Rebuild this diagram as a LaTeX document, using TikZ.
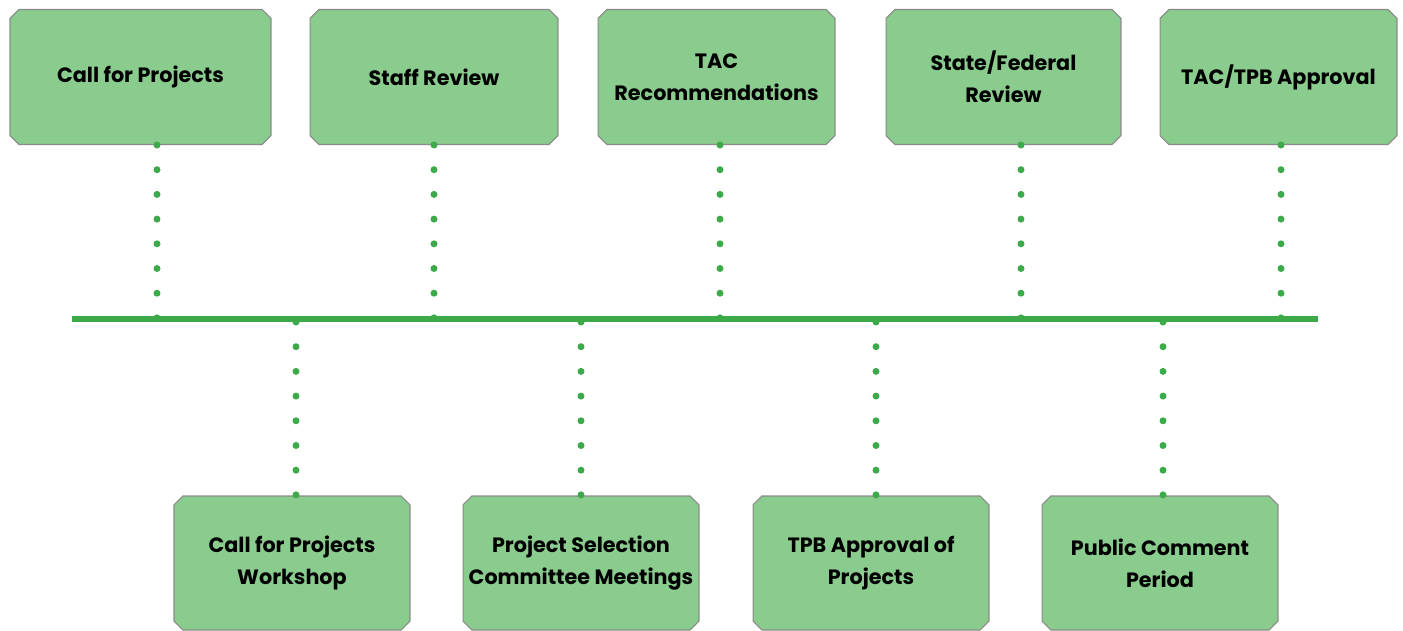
\documentclass[tikz,border=0pt]{standalone}
\usepackage{fontspec}
\setmainfont{Poppins}
\usepackage{xcolor}
\usepackage{tikz}
\usetikzlibrary{shapes.misc}
\definecolor{boxfill}{HTML}{8ACB8E}
\definecolor{boxline}{HTML}{8A8A8A}
\definecolor{linegreen}{HTML}{3DAA4A}
\tikzset{
	stepbox/.style={chamfered rectangle, chamfered rectangle xsep=2.5pt, chamfered rectangle ysep=2.5pt,
		fill=boxfill, draw=boxline, line width=0.6pt, align=center, inner sep=0pt,
		font=\fontsize{11.8}{18}\selectfont\bfseries, minimum height=2.7cm},
	dots/.style={linegreen, line width=0.14cm, line cap=round, dash pattern=on 0pt off 0.494cm},
}
\begin{document}
\begin{tikzpicture}[x=0.02cm, y=-0.02cm]
			\useasboundingbox (0,0) rectangle (1403,630);
			% top row
			\node[stepbox, minimum width=5.22cm] (call) at (140.5,77) {Call for Projects};
			\node[stepbox, minimum width=4.96cm] (staff) at (434,77) {Staff Review};
			\node[stepbox, minimum width=4.74cm] (tac) at (716.5,77) {TAC\\Recommendations};
			\node[stepbox, minimum width=4.70cm] (state) at (1003.5,77) {State/Federal\\Review};
			\node[stepbox, minimum width=4.74cm] (appr) at (1278.5,77) {TAC/TPB Approval};
			% bottom row
			\node[stepbox, minimum width=4.72cm, minimum height=2.68cm] (work) at (292,563) {Call for Projects\\Workshop};
			\node[stepbox, minimum width=4.72cm, minimum height=2.68cm] (psc) at (581,563) {Project Selection\\Committee Meetings};
			\node[stepbox, minimum width=4.72cm, minimum height=2.68cm] (tpb) at (871,563) {TPB Approval of\\Projects};
			\node[stepbox, minimum width=4.72cm, minimum height=2.68cm] (pub) at (1160,563) {Public Comment\\Period};
			% timeline
			\coordinate (tlstart) at (72,319);
			\coordinate (tlend) at (1318,319);
			\draw[linegreen, line width=0.12cm] (tlstart) -- (tlend);
			\coordinate (a1) at (157,318);
			\coordinate (a2) at (434,318);
			\coordinate (a3) at (720,318);
			\coordinate (a4) at (1021,318);
			\coordinate (a5) at (1281,318);
			\coordinate (b1) at (296,322);
			\coordinate (b2) at (581,322);
			\coordinate (b3) at (876,322);
			\coordinate (b4) at (1163,322);
			\draw[dots] (call.south -| a1) -- (a1);
			\draw[dots] (staff.south -| a2) -- (a2);
			\draw[dots] (tac.south -| a3) -- (a3);
			\draw[dots] (state.south -| a4) -- (a4);
			\draw[dots] (appr.south -| a5) -- (a5);
			\draw[dots] (b1) -- (work.north -| b1);
			\draw[dots] (b2) -- (psc.north -| b2);
			\draw[dots] (b3) -- (tpb.north -| b3);
			\draw[dots] (b4) -- (pub.north -| b4);
		\end{tikzpicture}
\end{document}
